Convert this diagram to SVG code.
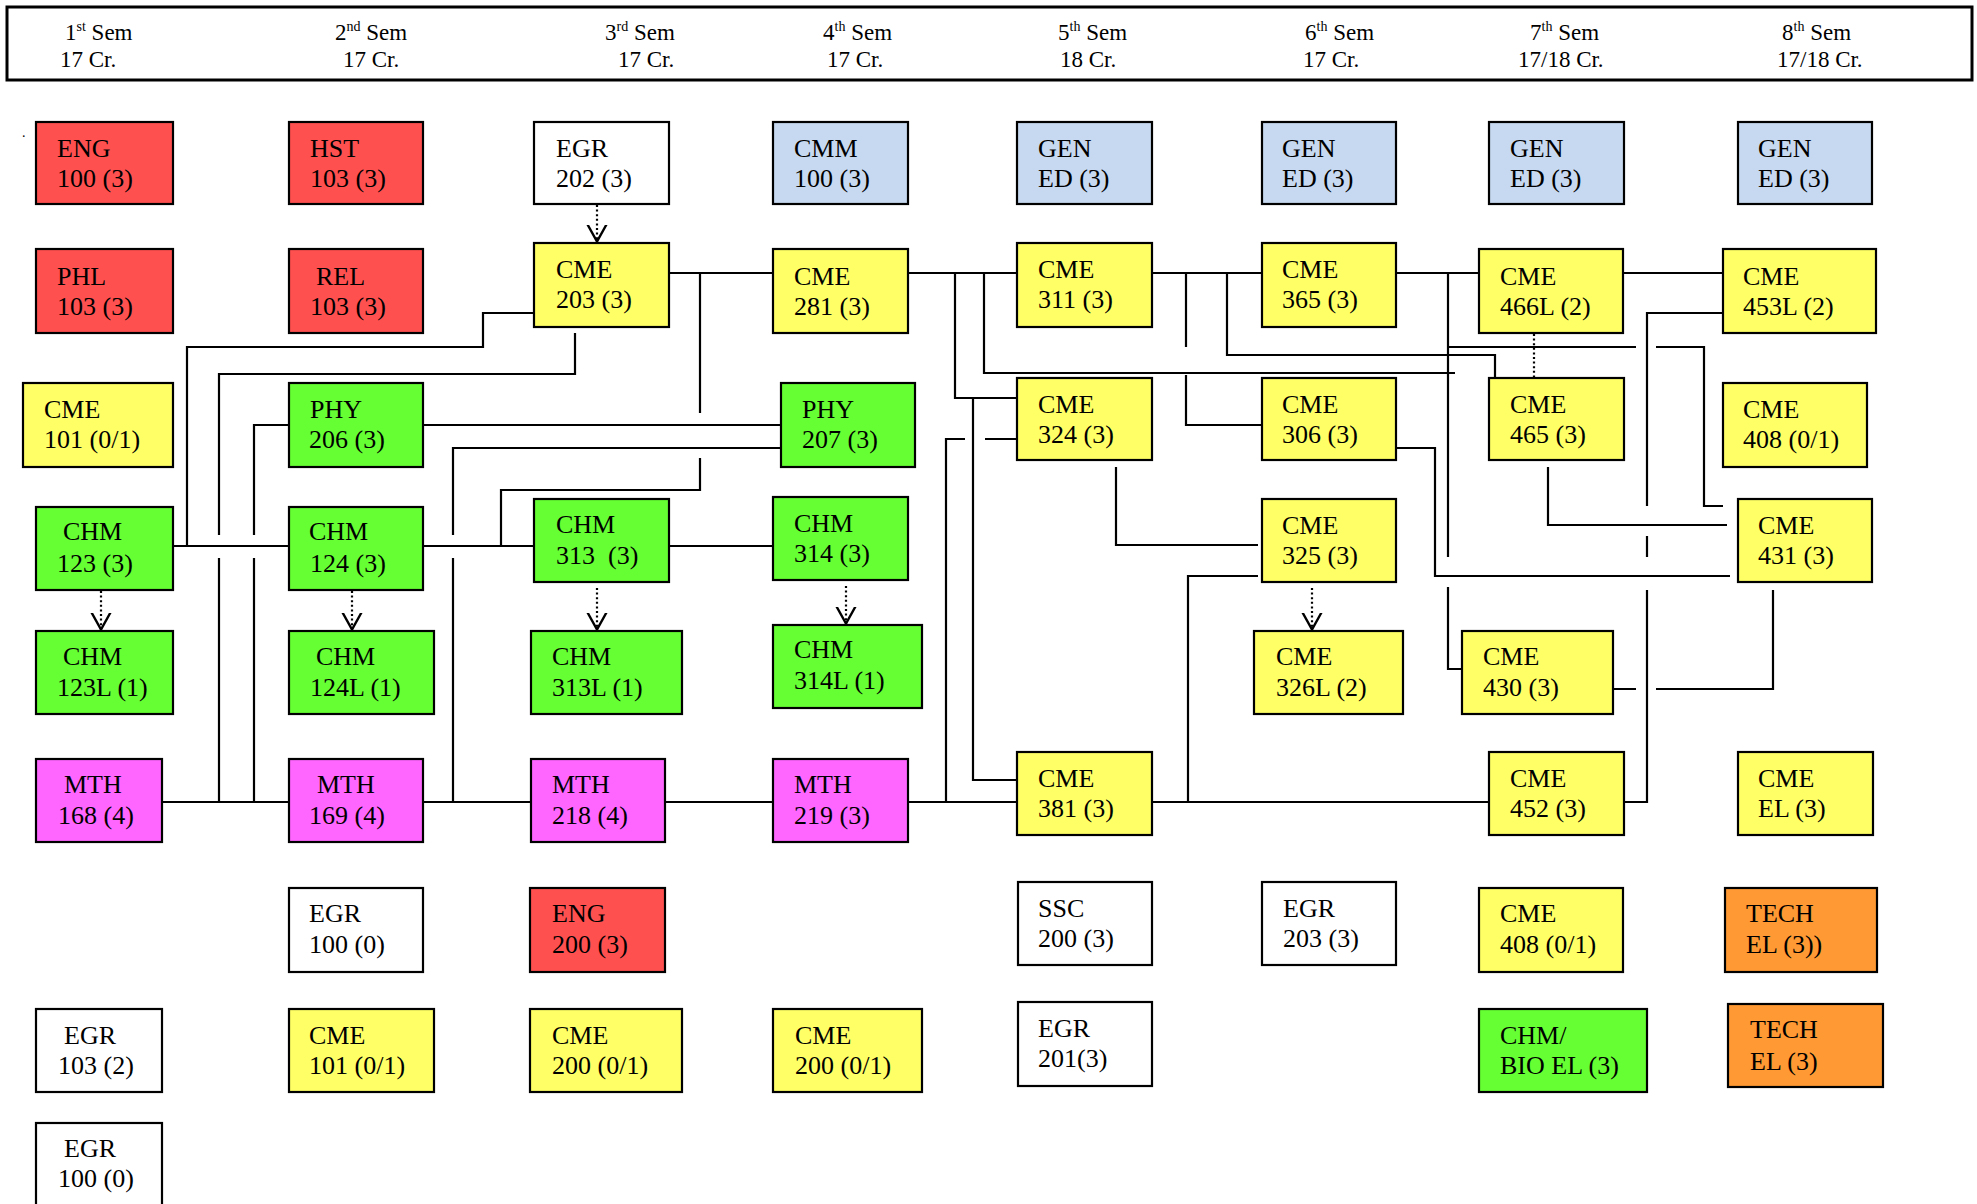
<svg xmlns="http://www.w3.org/2000/svg" width="1977" height="1204" viewBox="0 0 1977 1204">
<style>
text{font-family:"Liberation Serif","Times New Roman",serif;font-size:26px;fill:#000}
.h text{font-size:23px}
.n rect{stroke:#000;stroke-width:2.2}
.r{fill:#FF5050}.y{fill:#FFFF66}.g{fill:#66FF33}.m{fill:#FF66FF}.b{fill:#C6D9F0}.o{fill:#FF9933}.w{fill:#FFFFFF}
#connectors path{fill:none;stroke:#000;stroke-width:2.2}
#connectors path.d{stroke-dasharray:2 2.6}
</style>
<defs>
<marker id="ah" viewBox="0 -11 19 22" refX="17.5" refY="0" markerWidth="19" markerHeight="22" markerUnits="userSpaceOnUse" orient="auto">
<path d="M0,-9.5 L17,0 L0,9.5" fill="none" stroke="#000" stroke-width="2.4"/>
</marker>
</defs>
<rect width="1977" height="1204" fill="#fff"/>
<g id="header" class="h">
<rect x="7" y="7" width="1965" height="73" fill="#fff" stroke="#000" stroke-width="3"/>
<text x="65" y="40">1<tspan dy="-9" font-size="14">st</tspan><tspan dy="9"> Sem</tspan></text>
<text x="60" y="67">17 Cr.</text>
<text x="335" y="40">2<tspan dy="-9" font-size="14">nd</tspan><tspan dy="9"> Sem</tspan></text>
<text x="343" y="67">17 Cr.</text>
<text x="605" y="40">3<tspan dy="-9" font-size="14">rd</tspan><tspan dy="9"> Sem</tspan></text>
<text x="618" y="67">17 Cr.</text>
<text x="823" y="40">4<tspan dy="-9" font-size="14">th</tspan><tspan dy="9"> Sem</tspan></text>
<text x="827" y="67">17 Cr.</text>
<text x="1058" y="40">5<tspan dy="-9" font-size="14">th</tspan><tspan dy="9"> Sem</tspan></text>
<text x="1060" y="67">18 Cr.</text>
<text x="1305" y="40">6<tspan dy="-9" font-size="14">th</tspan><tspan dy="9"> Sem</tspan></text>
<text x="1303" y="67">17 Cr.</text>
<text x="1530" y="40">7<tspan dy="-9" font-size="14">th</tspan><tspan dy="9"> Sem</tspan></text>
<text x="1518" y="67">17/18 Cr.</text>
<text x="1782" y="40">8<tspan dy="-9" font-size="14">th</tspan><tspan dy="9"> Sem</tspan></text>
<text x="1777" y="67">17/18 Cr.</text>
</g>
<text x="22" y="137" style="font-size:14px">.</text>
<g id="connectors">
<path d="M665,273 H777"/>
<path d="M908,273 H1017"/>
<path d="M955,273 V398 H1017"/>
<path d="M973,398 V780 H1017"/>
<path d="M984,273 V373 H1455"/>
<path d="M1148,273 H1262"/>
<path d="M1186,273 V347 M1186,375 V425 H1262"/>
<path d="M1227,273 V355 H1495 V383"/>
<path d="M1396,273 H1479"/>
<path d="M1448,273 V557 M1448,587 V669 H1462"/>
<path d="M1448,347 H1636 M1656,347 H1704 V506 H1723"/>
<path d="M1623,273 H1723"/>
<path d="M1723,313 H1647 V506 M1647,536 V557 M1647,590 V802 H1624"/>
<path d="M1548,467 V525 H1727"/>
<path d="M1389,448 H1435 V576 H1730"/>
<path d="M1613,689 H1636 M1656,689 H1773 V590"/>
<path d="M1116,467 V545 H1258"/>
<path d="M1258,576 H1188 V802"/>
<path d="M1148,802 H1490"/>
<path d="M908,802 H1017"/>
<path d="M946,802 V439 H965 M985,439 H1017"/>
<path d="M665,802 H773"/>
<path d="M423,802 H531"/>
<path d="M162,802 H289"/>
<path d="M173,546 H293"/>
<path d="M423,546 H534"/>
<path d="M665,546 H777"/>
<path d="M423,425 H781"/>
<path d="M781,448 H453 V535 M453,558 V802"/>
<path d="M289,425 H254 V535 M254,558 V802"/>
<path d="M575,333 V374 H219 V535 M219,558 V802"/>
<path d="M534,313 H483 V347 H187 V546"/>
<path d="M700,273 V413 M700,458 V490 H501 V546"/>
<path class="d" d="M597,205 V242" marker-end="url(#ah)"/>
<path class="d" d="M101,591 V630" marker-end="url(#ah)"/>
<path class="d" d="M352,591 V630" marker-end="url(#ah)"/>
<path class="d" d="M597,588 V630" marker-end="url(#ah)"/>
<path class="d" d="M846,586 V624" marker-end="url(#ah)"/>
<path class="d" d="M1312,588 V630" marker-end="url(#ah)"/>
<path class="d" d="M1534,334 V378"/>
</g>
<g class="n">
<g id="ENG100"><rect class="r" x="36" y="122" width="137" height="82"/><text x="57" y="157">ENG</text><text x="57" y="187">100 (3)</text></g>
<g id="PHL103"><rect class="r" x="36" y="249" width="137" height="84"/><text x="57" y="285">PHL</text><text x="57" y="315">103 (3)</text></g>
<g id="CME101a"><rect class="y" x="23" y="383" width="150" height="84"/><text x="44" y="418">CME</text><text x="44" y="448">101 (0/1)</text></g>
<g id="CHM123"><rect class="g" x="36" y="507" width="137" height="83"/><text x="63" y="540">CHM</text><text x="57" y="572">123 (3)</text></g>
<g id="CHM123L"><rect class="g" x="36" y="631" width="137" height="83"/><text x="63" y="665">CHM</text><text x="57" y="696">123L (1)</text></g>
<g id="MTH168"><rect class="m" x="36" y="759" width="126" height="83"/><text x="64" y="793">MTH</text><text x="58" y="824">168 (4)</text></g>
<g id="EGR103"><rect class="w" x="36" y="1009" width="126" height="83"/><text x="64" y="1044">EGR</text><text x="58" y="1074">103 (2)</text></g>
<g id="EGR100a"><rect class="w" x="36" y="1123" width="126" height="84"/><text x="64" y="1157">EGR</text><text x="58" y="1187">100 (0)</text></g>

<g id="HST103"><rect class="r" x="289" y="122" width="134" height="82"/><text x="310" y="157">HST</text><text x="310" y="187">103 (3)</text></g>
<g id="REL103"><rect class="r" x="289" y="249" width="134" height="84"/><text x="316" y="285">REL</text><text x="310" y="315">103 (3)</text></g>
<g id="PHY206"><rect class="g" x="289" y="383" width="134" height="84"/><text x="310" y="418">PHY</text><text x="309" y="448">206 (3)</text></g>
<g id="CHM124"><rect class="g" x="289" y="507" width="134" height="83"/><text x="309" y="540">CHM</text><text x="310" y="572">124 (3)</text></g>
<g id="CHM124L"><rect class="g" x="289" y="631" width="145" height="83"/><text x="316" y="665">CHM</text><text x="310" y="696">124L (1)</text></g>
<g id="MTH169"><rect class="m" x="289" y="759" width="134" height="83"/><text x="317" y="793">MTH</text><text x="309" y="824">169 (4)</text></g>
<g id="EGR100b"><rect class="w" x="289" y="888" width="134" height="84"/><text x="309" y="922">EGR</text><text x="309" y="953">100 (0)</text></g>
<g id="CME101b"><rect class="y" x="289" y="1009" width="145" height="83"/><text x="309" y="1044">CME</text><text x="309" y="1074">101 (0/1)</text></g>

<g id="EGR202"><rect class="w" x="534" y="122" width="135" height="82"/><text x="556" y="157">EGR</text><text x="556" y="187">202 (3)</text></g>
<g id="CME203"><rect class="y" x="534" y="243" width="135" height="84"/><text x="556" y="278">CME</text><text x="556" y="308">203 (3)</text></g>
<g id="CHM313"><rect class="g" x="534" y="499" width="135" height="83"/><text x="556" y="533">CHM</text><text x="556" y="564">313&#160; (3)</text></g>
<g id="CHM313L"><rect class="g" x="531" y="631" width="151" height="83"/><text x="552" y="665">CHM</text><text x="552" y="696">313L (1)</text></g>
<g id="MTH218"><rect class="m" x="531" y="759" width="134" height="83"/><text x="552" y="793">MTH</text><text x="552" y="824">218 (4)</text></g>
<g id="ENG200"><rect class="r" x="530" y="888" width="135" height="84"/><text x="552" y="922">ENG</text><text x="552" y="953">200 (3)</text></g>
<g id="CME200a"><rect class="y" x="530" y="1009" width="152" height="83"/><text x="552" y="1044">CME</text><text x="552" y="1074">200 (0/1)</text></g>

<g id="CMM100"><rect class="b" x="773" y="122" width="135" height="82"/><text x="794" y="157">CMM</text><text x="794" y="187">100 (3)</text></g>
<g id="CME281"><rect class="y" x="773" y="249" width="135" height="84"/><text x="794" y="285">CME</text><text x="794" y="315">281 (3)</text></g>
<g id="PHY207"><rect class="g" x="781" y="383" width="134" height="84"/><text x="802" y="418">PHY</text><text x="802" y="448">207 (3)</text></g>
<g id="CHM314"><rect class="g" x="773" y="497" width="135" height="83"/><text x="794" y="532">CHM</text><text x="794" y="562">314 (3)</text></g>
<g id="CHM314L"><rect class="g" x="773" y="625" width="149" height="83"/><text x="794" y="658">CHM</text><text x="794" y="689">314L (1)</text></g>
<g id="MTH219"><rect class="m" x="773" y="759" width="135" height="83"/><text x="794" y="793">MTH</text><text x="794" y="824">219 (3)</text></g>
<g id="CME200b"><rect class="y" x="773" y="1009" width="149" height="83"/><text x="795" y="1044">CME</text><text x="795" y="1074">200 (0/1)</text></g>

<g id="GEN5"><rect class="b" x="1017" y="122" width="135" height="82"/><text x="1038" y="157">GEN</text><text x="1038" y="187">ED (3)</text></g>
<g id="CME311"><rect class="y" x="1017" y="243" width="135" height="84"/><text x="1038" y="278">CME</text><text x="1038" y="308">311 (3)</text></g>
<g id="CME324"><rect class="y" x="1017" y="378" width="135" height="82"/><text x="1038" y="413">CME</text><text x="1038" y="443">324 (3)</text></g>
<g id="CME381"><rect class="y" x="1017" y="752" width="135" height="83"/><text x="1038" y="787">CME</text><text x="1038" y="817">381 (3)</text></g>
<g id="SSC200"><rect class="w" x="1018" y="882" width="134" height="83"/><text x="1038" y="917">SSC</text><text x="1038" y="947">200 (3)</text></g>
<g id="EGR201"><rect class="w" x="1018" y="1002" width="134" height="84"/><text x="1038" y="1037">EGR</text><text x="1038" y="1067">201(3)</text></g>

<g id="GEN6"><rect class="b" x="1262" y="122" width="134" height="82"/><text x="1282" y="157">GEN</text><text x="1282" y="187">ED (3)</text></g>
<g id="CME365"><rect class="y" x="1262" y="243" width="134" height="84"/><text x="1282" y="278">CME</text><text x="1282" y="308">365 (3)</text></g>
<g id="CME306"><rect class="y" x="1262" y="378" width="134" height="82"/><text x="1282" y="413">CME</text><text x="1282" y="443">306 (3)</text></g>
<g id="CME325"><rect class="y" x="1262" y="499" width="134" height="83"/><text x="1282" y="534">CME</text><text x="1282" y="564">325 (3)</text></g>
<g id="CME326L"><rect class="y" x="1254" y="631" width="149" height="83"/><text x="1276" y="665">CME</text><text x="1276" y="696">326L (2)</text></g>
<g id="EGR203"><rect class="w" x="1262" y="882" width="134" height="83"/><text x="1283" y="917">EGR</text><text x="1283" y="947">203 (3)</text></g>

<g id="GEN7"><rect class="b" x="1489" y="122" width="135" height="82"/><text x="1510" y="157">GEN</text><text x="1510" y="187">ED (3)</text></g>
<g id="CME466L"><rect class="y" x="1479" y="249" width="144" height="84"/><text x="1500" y="285">CME</text><text x="1500" y="315">466L (2)</text></g>
<g id="CME465"><rect class="y" x="1489" y="378" width="135" height="82"/><text x="1510" y="413">CME</text><text x="1510" y="443">465 (3)</text></g>
<g id="CME430"><rect class="y" x="1462" y="631" width="151" height="83"/><text x="1483" y="665">CME</text><text x="1483" y="696">430 (3)</text></g>
<g id="CME452"><rect class="y" x="1489" y="752" width="135" height="83"/><text x="1510" y="787">CME</text><text x="1510" y="817">452 (3)</text></g>
<g id="CME408a"><rect class="y" x="1479" y="888" width="144" height="84"/><text x="1500" y="922">CME</text><text x="1500" y="953">408 (0/1)</text></g>
<g id="CHMBIO"><rect class="g" x="1479" y="1009" width="168" height="83"/><text x="1500" y="1044">CHM/</text><text x="1500" y="1074">BIO EL (3)</text></g>

<g id="GEN8"><rect class="b" x="1738" y="122" width="134" height="82"/><text x="1758" y="157">GEN</text><text x="1758" y="187">ED (3)</text></g>
<g id="CME453L"><rect class="y" x="1723" y="249" width="153" height="84"/><text x="1743" y="285">CME</text><text x="1743" y="315">453L (2)</text></g>
<g id="CME408b"><rect class="y" x="1723" y="383" width="144" height="84"/><text x="1743" y="418">CME</text><text x="1743" y="448">408 (0/1)</text></g>
<g id="CME431"><rect class="y" x="1738" y="499" width="134" height="83"/><text x="1758" y="534">CME</text><text x="1758" y="564">431 (3)</text></g>
<g id="CMEEL"><rect class="y" x="1738" y="752" width="135" height="83"/><text x="1758" y="787">CME</text><text x="1758" y="817">EL (3)</text></g>
<g id="TECH1"><rect class="o" x="1725" y="888" width="152" height="84"/><text x="1746" y="922">TECH</text><text x="1746" y="953">EL (3))</text></g>
<g id="TECH2"><rect class="o" x="1728" y="1004" width="155" height="83"/><text x="1750" y="1038">TECH</text><text x="1750" y="1070">EL (3)</text></g>
</g>
</svg>
